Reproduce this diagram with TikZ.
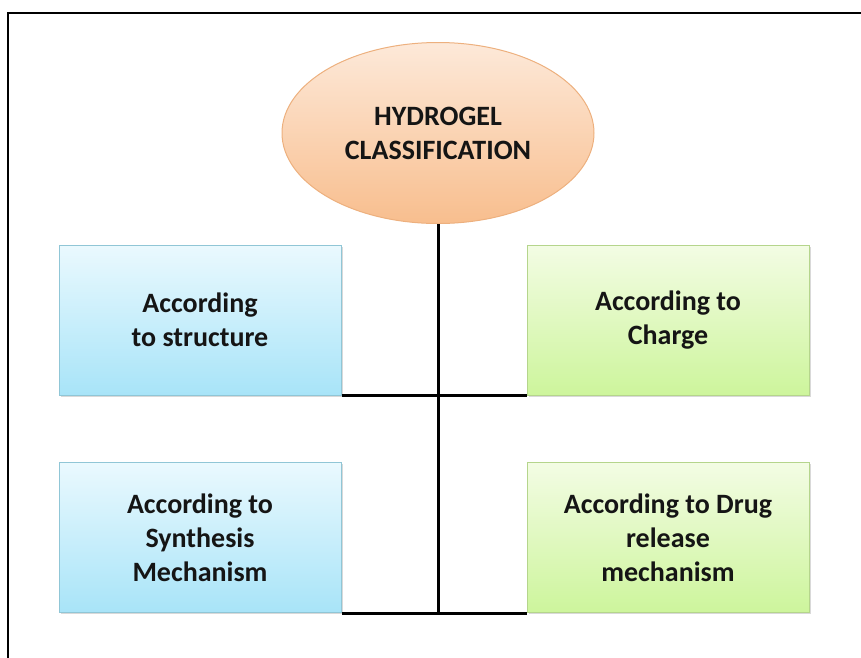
\documentclass[tikz,border=0pt]{standalone}
\usepackage{fontspec}
\setmainfont{Carlito}
\usetikzlibrary{shapes.geometric,shadows}
\definecolor{txt}{HTML}{151515}
\definecolor{ovtop}{HTML}{FDE9D9}
\definecolor{ovbot}{HTML}{F8BE8E}
\definecolor{ovline}{HTML}{EDB07E}
\definecolor{bltop}{HTML}{EAF9FE}
\definecolor{blbot}{HTML}{A8E4F8}
\definecolor{blline}{HTML}{90C6D6}
\definecolor{grtop}{HTML}{F3FCE4}
\definecolor{grbot}{HTML}{CDF59C}
\definecolor{grline}{HTML}{B5D58C}
\tikzset{
  lbl/.style={font=\fontsize{28}{34}\selectfont\bfseries, text=txt, align=center},
  catbox/.style={lbl, rectangle, minimum width=282pt, minimum height=150pt, inner sep=0pt,
    line width=1pt, drop shadow={shadow xshift=1.5pt, shadow yshift=-1.5pt, opacity=0.25, fill=black!60}},
  bluebox/.style={catbox, draw=blline, top color=bltop, bottom color=blbot},
  greenbox/.style={catbox, draw=grline, top color=grtop, bottom color=grbot},
  conn/.style={line width=3pt, draw=black}
}
\begin{document}
\begin{tikzpicture}[x=1pt,y=-1pt]
\useasboundingbox (0,0) rectangle (861,657);
\begin{scope}
\clip (0,0) rectangle (861,657);
\draw[line width=2.5pt, draw=black] (8,13) rectangle (900,700);
\end{scope}
\node[lbl, ellipse, minimum width=312pt, minimum height=181pt, inner sep=0pt,
  draw=ovline, line width=1pt, top color=ovtop, bottom color=ovbot] (top) at (438,133)
  {HYDROGEL\\CLASSIFICATION};
\node[bluebox] (tl) at (200,320) {According\\to structure};
\node[greenbox] (tr) at (668,320) {According to\\Charge};
\node[bluebox] (bl) at (200,537.5) {According to\\Synthesis\\Mechanism};
\node[greenbox] (br) at (668,537.5) {According to Drug\\release\\mechanism};
\coordinate (vend) at (top.south |- bl.south east);
\draw[conn] (top.south) -- (vend);
\draw[conn] (tl.south east) -- (tr.south west);
\draw[conn] (bl.south east) -- (br.south west);
\end{tikzpicture}
\end{document}
